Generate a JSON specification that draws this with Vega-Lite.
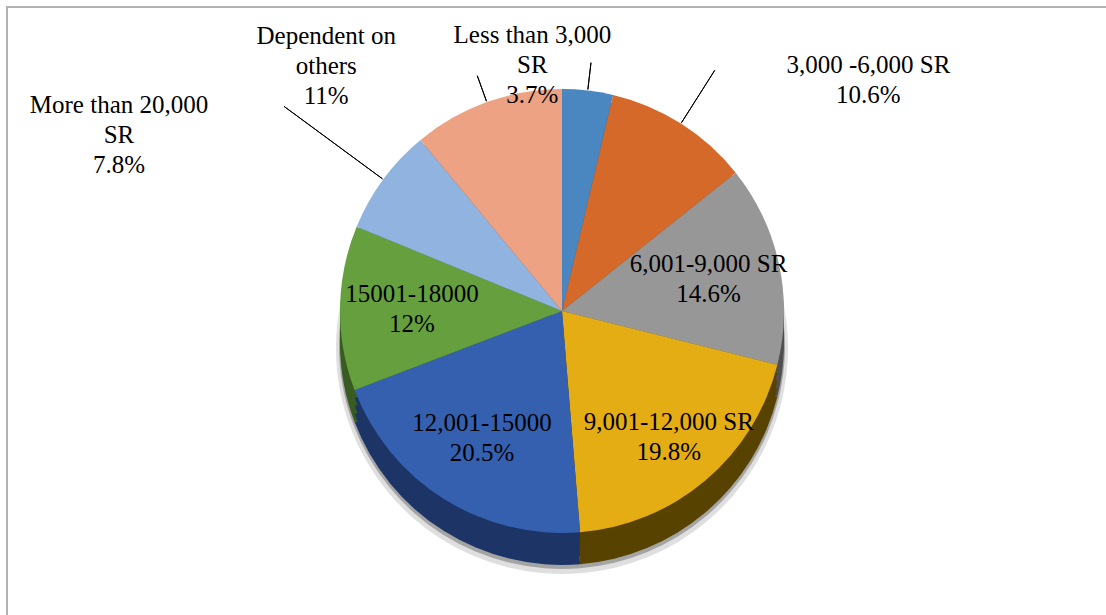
{
  "$schema": "https://vega.github.io/schema/vega-lite/v6.json",
  "width": 1110,
  "height": 618,
  "padding": {"left": 7, "top": 7, "right": 0, "bottom": 0},
  "autosize": {"type": "none"},
  "background": "white",
  "config": {"view": {"stroke": null}},
  "data": {
    "values": [
      {"rank": 1, "cat": "Less than 3,000 SR", "value": 3.7, "label": "Less than 3,000\nSR\n3.7%"},
      {"rank": 2, "cat": "3,000 -6,000 SR", "value": 10.6, "label": "3,000 -6,000 SR\n10.6%"},
      {"rank": 3, "cat": "6,001-9,000 SR", "value": 14.6, "label": "6,001-9,000 SR\n14.6%"},
      {"rank": 4, "cat": "9,001-12,000 SR", "value": 19.8, "label": "9,001-12,000 SR\n19.8%"},
      {"rank": 5, "cat": "12,001-15000", "value": 20.5, "label": "12,001-15000\n20.5%"},
      {"rank": 6, "cat": "15001-18000", "value": 12, "label": "15001-18000\n12%"},
      {"rank": 7, "cat": "More than 20,000 SR", "value": 7.8, "label": "More than 20,000\nSR\n7.8%"},
      {"rank": 8, "cat": "Dependent on others", "value": 11, "label": "Dependent on\nothers\n11%"}
    ]
  },
  "layer": [
    {
      "mark": {"type": "rect", "fillOpacity": 0, "stroke": "#b3b3b3", "strokeWidth": 1.5},
      "encoding": {}
    },
    {
      "encoding": {
        "theta": {"field": "value", "type": "quantitative", "stack": true},
        "order": {"field": "rank", "type": "quantitative"}
      },
      "layer": [
        {
          "mark": {"type": "arc", "radius": 226, "yOffset": 32, "fill": "#6e6e6e", "opacity": 0.22}
        },
        {
          "mark": {"type": "arc", "radius": 223, "yOffset": 30, "fill": "#5e5e5e", "opacity": 0.45}
        },
        {
          "mark": {"type": "arc", "radius": 222, "yOffset": 27},
          "encoding": {"fill": {"field": "cat", "type": "nominal", "legend": null,
            "scale": {"domain": ["Less than 3,000 SR", "3,000 -6,000 SR", "6,001-9,000 SR", "9,001-12,000 SR", "12,001-15000", "15001-18000", "More than 20,000 SR", "Dependent on others"],
              "range": ["#2b5680", "#7a3a12", "#505050", "#584200", "#1d3566", "#385c22", "#526c92", "#8c5843"]}}}
        },
        {
          "mark": {"type": "arc", "radius": 222, "yOffset": 19},
          "encoding": {"fill": {"field": "cat", "type": "nominal", "legend": null}}
        },
        {
          "mark": {"type": "arc", "radius": 222, "yOffset": 11},
          "encoding": {"fill": {"field": "cat", "type": "nominal", "legend": null}}
        },
        {
          "mark": {"type": "arc", "radius": 222, "yOffset": 3},
          "encoding": {"fill": {"field": "cat", "type": "nominal", "legend": null}}
        },
        {
          "mark": {"type": "arc", "radius": 222, "yOffset": -5},
          "encoding": {"color": {"field": "cat", "type": "nominal", "legend": null,
            "scale": {"domain": ["Less than 3,000 SR", "3,000 -6,000 SR", "6,001-9,000 SR", "9,001-12,000 SR", "12,001-15000", "15001-18000", "More than 20,000 SR", "Dependent on others"],
              "range": ["#4a86c0", "#d5692a", "#979797", "#e5ad14", "#3560b0", "#66a03e", "#90b3e0", "#eda283"]}}}
        },
        {
          "mark": {"type": "arc", "radius": 250, "radius2": 223, "padAngle": 3, "yOffset": -5, "fillOpacity": 0, "stroke": "#000000", "strokeWidth": 1},
          "encoding": {"strokeOpacity": {"condition": {"test": "datum.rank == 1 || datum.rank == 8", "value": 1}, "value": 0}}
        },
        {
          "mark": {"type": "arc", "radius": 285, "radius2": 223, "padAngle": 3, "yOffset": -5, "fillOpacity": 0, "stroke": "#000000", "strokeWidth": 1},
          "encoding": {"strokeOpacity": {"condition": {"test": "datum.rank == 2", "value": 1}, "value": 0}}
        },
        {
          "mark": {"type": "arc", "radius": 345, "radius2": 223, "padAngle": 3, "yOffset": -5, "fillOpacity": 0, "stroke": "#000000", "strokeWidth": 1},
          "encoding": {"strokeOpacity": {"condition": {"test": "datum.rank == 7", "value": 1}, "value": 0}}
        },
        {
          "mark": {"type": "text", "radius": 150, "dy": -20, "font": "Liberation Serif", "fontSize": 25, "lineBreak": "\n", "lineHeight": 30, "align": "center", "baseline": "middle", "color": "#000000"},
          "encoding": {"text": {"field": "label"}, "opacity": {"condition": {"test": "datum.rank == 3 || datum.rank == 5 || datum.rank == 6", "value": 1}, "value": 0}}
        },
        {
          "mark": {"type": "text", "radius": 165, "dy": -20, "font": "Liberation Serif", "fontSize": 25, "lineBreak": "\n", "lineHeight": 30, "align": "center", "baseline": "middle", "color": "#000000"},
          "encoding": {"text": {"field": "label"}, "opacity": {"condition": {"test": "datum.rank == 4", "value": 1}, "value": 0}}
        },
        {
          "mark": {"type": "text", "radius": 262, "dx": -60, "dy": -21, "font": "Liberation Serif", "fontSize": 25, "lineBreak": "\n", "lineHeight": 30, "align": "center", "baseline": "middle", "color": "#000000"},
          "encoding": {"text": {"field": "label"}, "opacity": {"condition": {"test": "datum.rank == 1", "value": 1}, "value": 0}}
        },
        {
          "mark": {"type": "text", "radius": 262, "dx": 166, "dy": -30, "font": "Liberation Serif", "fontSize": 25, "lineBreak": "\n", "lineHeight": 30, "align": "center", "baseline": "middle", "color": "#000000"},
          "encoding": {"text": {"field": "label"}, "opacity": {"condition": {"test": "datum.rank == 2", "value": 1}, "value": 0}}
        },
        {
          "mark": {"type": "text", "radius": 262, "dx": -232, "dy": -56, "font": "Liberation Serif", "fontSize": 25, "lineBreak": "\n", "lineHeight": 30, "align": "center", "baseline": "middle", "color": "#000000"},
          "encoding": {"text": {"field": "label"}, "opacity": {"condition": {"test": "datum.rank == 7", "value": 1}, "value": 0}}
        },
        {
          "mark": {"type": "text", "radius": 262, "dx": -147, "dy": -33, "font": "Liberation Serif", "fontSize": 25, "lineBreak": "\n", "lineHeight": 30, "align": "center", "baseline": "middle", "color": "#000000"},
          "encoding": {"text": {"field": "label"}, "opacity": {"condition": {"test": "datum.rank == 8", "value": 1}, "value": 0}}
        }
      ]
    }
  ]
}
